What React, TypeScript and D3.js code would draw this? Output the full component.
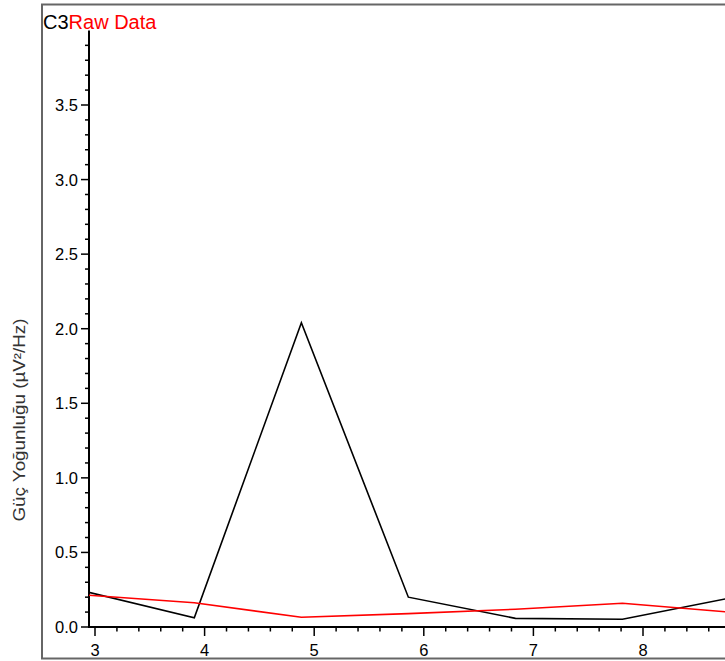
import React from "react";
import * as d3 from "d3";

const freqs = [2.93, 3.906, 4.883, 5.859, 6.836, 7.8125, 8.789];
const c3Values = [0.235, 0.062, 2.04, 0.2, 0.058, 0.052, 0.194];
const rawValues = [0.214, 0.163, 0.065, 0.09, 0.119, 0.159, 0.1];
const xTickValues = [3, 4, 5, 6, 7, 8, 9];
const yTickValues = [0, 0.5, 1, 1.5, 2, 2.5, 3, 3.5];
const titleParts = ["C3", "Raw Data"];
const yLabel = "Güç Yoğunluğu (µV²/Hz)";

const W = 725;
const H = 661;
const FONT = "'Liberation Sans', Arial, sans-serif";

export default function App() {
  const x = d3.scaleLinear().domain([3, 8]).range([95, 643]);
  const y = d3.scaleLinear().domain([0, 3.5]).range([627, 105]);
  const xMin = x.invert(89);
  const xMax = x.invert(W + 20);

  const line = d3
    .line<number>()
    .x((_, i) => x(freqs[i]))
    .y((d) => y(d));

  const xMinor = d3.range(Math.ceil(xMin * 5), Math.floor(xMax * 5) + 1).map((k) => k / 5);
  const yMinor = d3.range(0, 40).map((k) => k / 10);

  const left = x(xMin);
  const bottom = y(0);
  const top = y(4);

  return (
    <svg
      width={W}
      height={H}
      style={{ position: "absolute", left: 0, top: 0, background: "#fff" }}
      fontFamily={FONT}
    >
      <defs>
        <clipPath id="plotClip">
          <rect x={left} y={top} width={W - left + 10} height={bottom - top} />
        </clipPath>
      </defs>
      {/* outer frame */}
      <rect x={42} y={4.5} width={W} height={654} fill="none" stroke="#666" strokeWidth={2} />

      {/* y label */}
      <text
        transform={`translate(25, ${420}) rotate(-90)`}
        textAnchor="middle"
        fontSize={16.5}
        textLength={203}
        lengthAdjust="spacingAndGlyphs"
        fill="#333"
      >
        {yLabel}
      </text>

      {/* y axis */}
      <line x1={left} x2={left} y1={top} y2={bottom + 1} stroke="#000" strokeWidth={2} />
      {yMinor.map((v) => {
        const major = Math.abs(v * 2 - Math.round(v * 2)) < 1e-6;
        return (
          <line
            key={"ym" + v}
            x1={left - (major ? 8 : 4)}
            x2={left}
            y1={y(v)}
            y2={y(v)}
            stroke="#000"
            strokeWidth={1.5}
          />
        );
      })}
      {yTickValues.map((v) => (
        <text
          key={"yl" + v}
          x={78}
          y={y(v)}
          dy="0.36em"
          textAnchor="end"
          fontSize={16.5}
          fill="#000"
        >
          {d3.format(".1f")(v)}
        </text>
      ))}

      {/* x axis */}
      <line x1={left - 1} x2={W} y1={bottom} y2={bottom} stroke="#000" strokeWidth={2} />
      {xMinor.map((v) => {
        const major = Math.abs(v - Math.round(v)) < 1e-6;
        return (
          <line
            key={"xm" + v}
            x1={x(v)}
            x2={x(v)}
            y1={bottom}
            y2={bottom + (major ? 9 : 4.5)}
            stroke="#000"
            strokeWidth={1.5}
          />
        );
      })}
      {xTickValues
        .filter((v) => x(v) < W)
        .map((v) => (
          <text key={"xl" + v} x={x(v)} y={656} textAnchor="middle" fontSize={16.5} fill="#000">
            {v}
          </text>
        ))}

      {/* data */}
      <g clipPath="url(#plotClip)">
        <path d={line(c3Values) || ""} fill="none" stroke="#000" strokeWidth={1.6} />
        <path d={line(rawValues) || ""} fill="none" stroke="#ff0000" strokeWidth={1.6} />
      </g>

      {/* title */}
      <text x={43} y={29} fontSize={20}>
        <tspan fill="#000">{titleParts[0]}</tspan>
        <tspan fill="#ff0000">{titleParts[1]}</tspan>
      </text>
    </svg>
  );
}
